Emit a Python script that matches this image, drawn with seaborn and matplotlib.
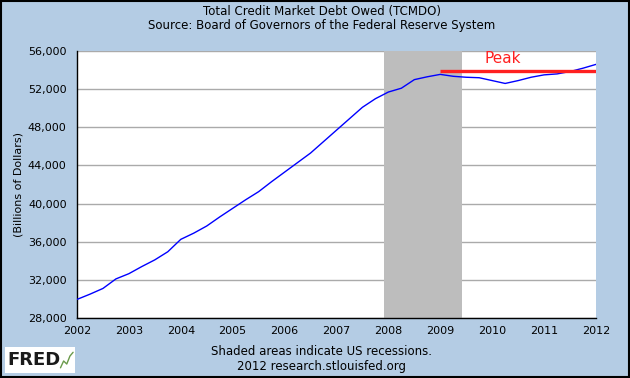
import matplotlib
matplotlib.use("Agg")
import matplotlib.pyplot as plt
import seaborn as sns
import pandas as pd
from matplotlib.patches import Rectangle
from matplotlib.ticker import FuncFormatter

# Quarterly observations, billions of dollars
dates = [2002.00, 2002.25, 2002.50, 2002.75, 2003.00, 2003.25, 2003.50, 2003.75,
         2004.00, 2004.25, 2004.50, 2004.75, 2005.00, 2005.25, 2005.50, 2005.75,
         2006.00, 2006.25, 2006.50, 2006.75, 2007.00, 2007.25, 2007.50, 2007.75,
         2008.00, 2008.25, 2008.50, 2008.75, 2009.00, 2009.25, 2009.50, 2009.75,
         2010.00, 2010.25, 2010.50, 2010.75, 2011.00, 2011.25, 2011.50, 2011.75,
         2012.00]
debt = [29950, 30500, 31100, 32100, 32650, 33400, 34100, 34950,
        36250, 36900, 37650, 38600, 39500, 40400, 41250, 42300,
        43300, 44300, 45300, 46500, 47700, 48900, 50100, 51000,
        51700, 52100, 53000, 53300, 53550, 53350, 53250, 53200,
        52900, 52600, 52900, 53250, 53500, 53600, 53850, 54200,
        54600]

recession = (2007.917, 2009.417)
peak_level = 53950
peak_span = (2009.0, 2012.0)
x_ticks = list(range(2002, 2013))
y_ticks = list(range(28000, 56001, 4000))

bg = "#b4cce4"
df = pd.DataFrame({"date": dates, "debt": debt})

sns.set_style("white")
plt.rcParams["text.color"] = "black"
plt.rcParams["axes.labelcolor"] = "black"
plt.rcParams["xtick.color"] = "black"
plt.rcParams["ytick.color"] = "black"

fig = plt.figure(figsize=(6.3, 3.78), dpi=100, facecolor=bg)
ax = fig.add_axes([0.1222, 0.1587, 0.8238, 0.7063])
ax.set_facecolor("white")

ax.axvspan(*recession, color="#bdbdbd", zorder=1, lw=0)
sns.lineplot(data=df, x="date", y="debt", color="#0000ff", linewidth=1, ax=ax, zorder=3)
ax.hlines(peak_level, *peak_span, colors="#ff2020", linewidth=2.4, zorder=4)
ax.text(2010.2, 55250, "Peak", color="#ff2020", fontsize=11, ha="center", va="center")

ax.set_xlim(2002, 2012)
ax.set_ylim(28000, 56000)
ax.set_xticks(x_ticks)
ax.set_yticks(y_ticks)
ax.yaxis.set_major_formatter(FuncFormatter(lambda v, p: f"{int(v):,}"))
ax.grid(axis="y", color="#aaaaaa", linewidth=1, zorder=0)
ax.set_axisbelow(True)
ax.tick_params(axis="x", direction="in", length=4, labelsize=8, pad=6)
ax.tick_params(axis="y", direction="out", length=4, labelsize=8)
for side in ["top", "right"]:
    ax.spines[side].set_visible(False)
for side in ["left", "bottom"]:
    ax.spines[side].set_color("black")
    ax.spines[side].set_linewidth(1)
ax.set_xlabel("")
ax.set_ylabel("(Billions of Dollars)", fontsize=8)
ax.yaxis.set_label_coords(-0.104, 0.5)

fig.text(0.511, 0.969, "Total Credit Market Debt Owed (TCMDO)", ha="center", va="center", fontsize=8.5)
fig.text(0.511, 0.932, "Source: Board of Governors of the Federal Reserve System",
         ha="center", va="center", fontsize=8.5)
fig.text(0.511, 0.069, "Shaded areas indicate US recessions.", ha="center", va="center", fontsize=8.5)
fig.text(0.511, 0.031, "2012 research.stlouisfed.org", ha="center", va="center", fontsize=8.5)

# FRED logo badge
fig.patches.append(Rectangle((0.008, 0.013), 0.111, 0.07, transform=fig.transFigure,
                             facecolor="white", edgecolor="none"))
fig.text(0.011, 0.048, "FRED", fontsize=13, fontweight="bold", color="#1a1a1a",
         ha="left", va="center")
fig.add_artist(plt.Line2D([0.096, 0.101, 0.106, 0.111, 0.116], [0.027, 0.045, 0.037, 0.058, 0.068],
                          transform=fig.transFigure, color="#6a9a4a", linewidth=1))

# outer border
fig.patches.append(Rectangle((0.001, 0.002), 0.997, 0.995, transform=fig.transFigure,
                             facecolor="none", edgecolor="black", linewidth=1.5))

fig.savefig("out.png", dpi=100, facecolor=bg)
